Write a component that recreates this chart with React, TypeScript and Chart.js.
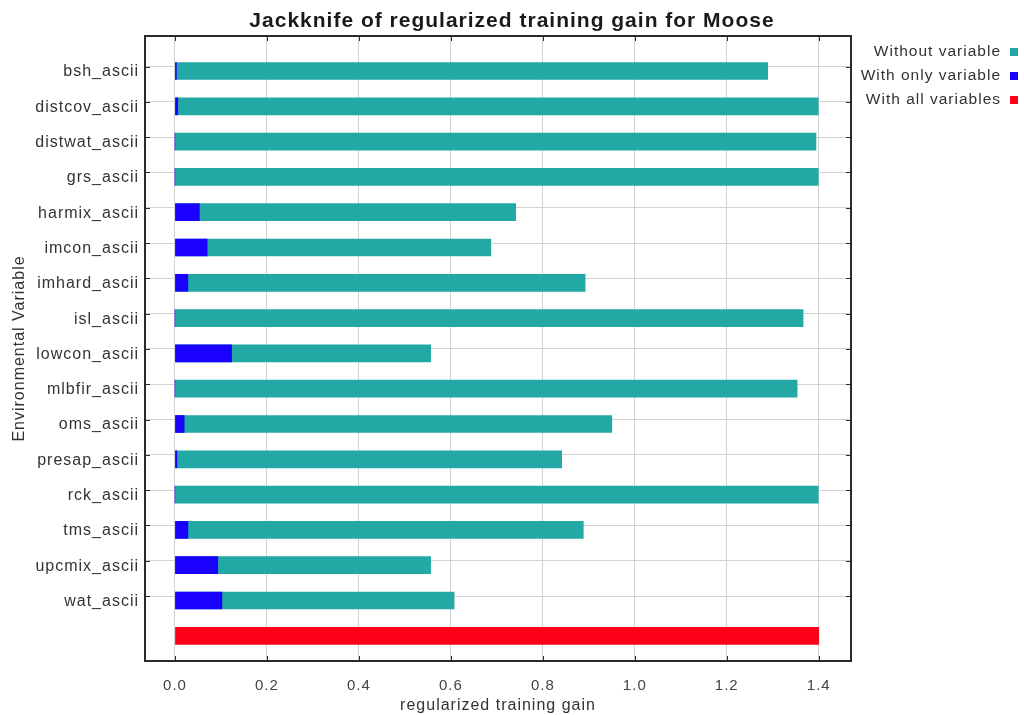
import React, { useEffect, useRef } from 'react';
import { Chart, registerables, layouts } from 'chart.js';

Chart.register(...registerables);

const FONT = '"Liberation Sans", Arial, sans-serif';

const variables = [
  'bsh_ascii', 'distcov_ascii', 'distwat_ascii', 'grs_ascii', 'harmix_ascii',
  'imcon_ascii', 'imhard_ascii', 'isl_ascii', 'lowcon_ascii', 'mlbfir_ascii',
  'oms_ascii', 'presap_ascii', 'rck_ascii', 'tms_ascii', 'upcmix_ascii', 'wat_ascii',
];
const withoutVariable = [
  1.289, 1.399, 1.394, 1.399, 0.741, 0.687, 0.892, 1.366,
  0.556, 1.353, 0.950, 0.841, 1.399, 0.888, 0.556, 0.607,
];
const withOnlyVariable = [
  0.003, 0.006, 0.0, 0.0, 0.053, 0.070, 0.028, 0.0,
  0.123, 0.0, 0.020, 0.004, 0.0, 0.028, 0.093, 0.102,
];
const withAllVariables = [1.4];
const xTickValues = [0, 0.2, 0.4, 0.6, 0.8, 1.0, 1.2, 1.4];
const seriesNames = ['Without variable', 'With only variable', 'With all variables'];
const seriesColors = ['#22a9a6', '#1a00ff', '#fb0018'];

const LEGEND_WIDTH = 173;

const frameAndLegend = {
  id: 'frameAndLegend',
  beforeInit(chart: any) {
    const spacer: any = {
      position: 'right',
      weight: 0,
      fullSize: false,
      options: { stackWeight: 1 },
      width: LEGEND_WIDTH,
      height: 0,
      top: 0, left: 0, right: 0, bottom: 0,
      isHorizontal() { return false; },
      getPadding() { return { top: 0, left: 0, bottom: 0, right: 0 }; },
      update(_maxWidth: number, maxHeight: number) {
        this.width = LEGEND_WIDTH;
        this.height = maxHeight;
        return {};
      },
      draw() {},
    };
    layouts.addBox(chart, spacer);
  },
  beforeDraw(chart: any) {
    chart.ctx.letterSpacing = '1px';
  },
  afterDraw(chart: any) {
    const { ctx, chartArea } = chart;
    const { left, right, top, bottom } = chartArea;
    const xs = chart.scales.x;
    const ys = chart.scales.y;
    ctx.save();
    ctx.strokeStyle = '#2b2b2b';
    ctx.lineWidth = 1;
    ctx.beginPath();
    xs.ticks.forEach((t: any) => {
      const px = Math.round(xs.getPixelForValue(t.value)) + 0.5;
      ctx.moveTo(px, bottom);
      ctx.lineTo(px, bottom - 5);
      ctx.moveTo(px, top);
      ctx.lineTo(px, top + 5);
    });
    ys.ticks.forEach((t: any) => {
      const py = Math.round(ys.getPixelForValue(t.value)) + 0.5;
      ctx.moveTo(left, py);
      ctx.lineTo(left + 5, py);
      ctx.moveTo(right, py);
      ctx.lineTo(right - 5, py);
    });
    ctx.stroke();
    ctx.lineWidth = 2;
    ctx.strokeRect(left, top, right - left, bottom - top);

    ctx.font = `15.5px ${FONT}`;
    ctx.textAlign = 'right';
    ctx.textBaseline = 'middle';
    chart.data.datasets.forEach((ds: any, k: number) => {
      const y = top + 16 + 24 * k;
      ctx.fillStyle = '#333333';
      ctx.fillText(ds.label, chart.width - 23, y);
      ctx.fillStyle = ds.backgroundColor;
      ctx.fillRect(chart.width - 14, y - 4, 8, 8);
    });
    ctx.restore();
  },
};

export default function App() {
  const canvasRef = useRef<HTMLCanvasElement | null>(null);

  useEffect(() => {
    const canvas = canvasRef.current;
    if (!canvas) return;

    const chart = new Chart(canvas, {
      type: 'bar',
      data: {
        datasets: [
          {
            label: seriesNames[0],
            data: withoutVariable.map((v, i) => ({ x: v, y: i })),
            backgroundColor: seriesColors[0],
            borderWidth: 0,
            barThickness: 17,
            grouped: false,
            order: 2,
          },
          {
            label: seriesNames[1],
            data: withOnlyVariable.map((v, i) => ({ x: v, y: i })),
            backgroundColor: seriesColors[1],
            borderWidth: 0,
            barThickness: 17,
            grouped: false,
            order: 1,
          },
          {
            label: seriesNames[2],
            data: withAllVariables.map((v) => ({ x: v, y: variables.length })),
            backgroundColor: seriesColors[2],
            borderWidth: 0,
            barThickness: 17,
            grouped: false,
            order: 3,
          },
        ],
      } as any,
      options: {
        indexAxis: 'y',
        responsive: false,
        animation: false,
        devicePixelRatio: 1,
        layout: { padding: 0 },
        plugins: {
          legend: { display: false },
          tooltip: { enabled: false },
          title: {
            display: true,
            text: 'Jackknife of regularized training gain for Moose',
            color: '#1a1a1a',
            font: { family: FONT, size: 21, weight: 'bold', lineHeight: 1.2 },
            padding: { top: 8.4, bottom: 2.4 },
          },
        },
        scales: {
          x: {
            type: 'linear',
            position: 'bottom',
            min: -0.0652,
            max: 1.4702,
            bounds: 'data',
            offset: false,
            afterBuildTicks: (axis: any) => {
              axis.ticks = xTickValues.map((v) => ({ value: v }));
            },
            afterFit: (axis: any) => {
              axis.height = 54;
            },
            grid: { color: '#d2d2d2', lineWidth: 1, drawTicks: false, offset: false },
            border: { display: false },
            ticks: {
              autoSkip: false,
              maxRotation: 0,
              padding: 16,
              color: '#444444',
              font: { family: FONT, size: 15 },
              callback: (v: any) => Number(v).toFixed(1),
            },
            title: {
              display: true,
              text: 'regularized training gain',
              color: '#333333',
              font: { family: FONT, size: 16 },
              padding: { top: 0, bottom: 0 },
            },
          },
          y: {
            type: 'linear',
            position: 'left',
            reverse: true,
            min: -0.9915,
            max: 16.714,
            bounds: 'data',
            offset: false,
            afterBuildTicks: (axis: any) => {
              axis.ticks = variables.map((_, i) => ({ value: i - 0.127 }));
            },
            afterFit: (axis: any) => {
              axis.width = 145;
            },
            grid: { color: '#d2d2d2', lineWidth: 1, drawTicks: false, offset: false },
            border: { display: false },
            ticks: {
              autoSkip: false,
              padding: 6,
              labelOffset: 5.5,
              color: '#333333',
              font: { family: FONT, size: 16 },
              callback: (_v: any, index: number) => variables[index],
            },
            title: {
              display: true,
              text: 'Environmental Variable',
              color: '#333333',
              font: { family: FONT, size: 16 },
              padding: { top: 9.5, bottom: 0 },
            },
          },
        },
      } as any,
      plugins: [frameAndLegend],
    });

    return () => chart.destroy();
  }, []);

  return (
    <div style={{ position: 'absolute', left: 0, top: 0, width: 1024, height: 715, background: '#ffffff' }}>
      <canvas ref={canvasRef} width={1024} height={715} style={{ display: 'block', width: 1024, height: 715 }} />
    </div>
  );
}
